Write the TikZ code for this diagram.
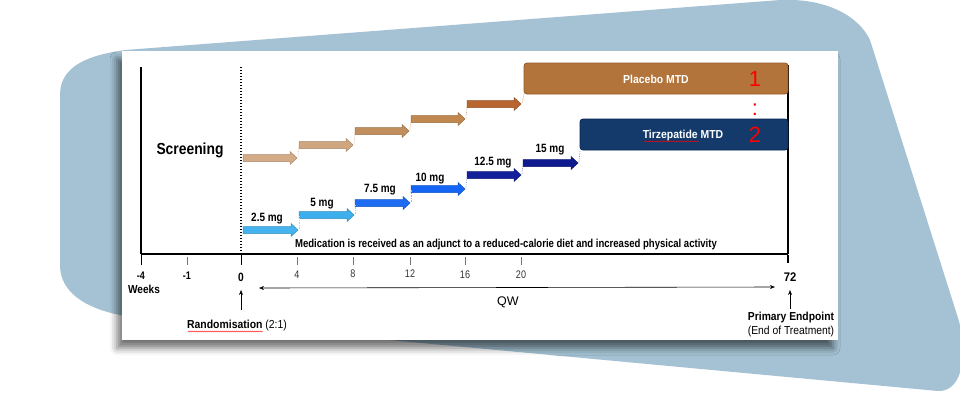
\documentclass[tikz,border=0pt]{standalone}
\usepackage{fontspec}
\usepackage{graphicx}
\setmainfont{Liberation Sans}
\usetikzlibrary{arrows.meta,shadows.blur,decorations.pathmorphing}
\definecolor{bgblue}{RGB}{164,194,211}
\definecolor{pl1}{RGB}{212,171,135}
\definecolor{pl2}{RGB}{208,166,128}
\definecolor{pl3}{RGB}{193,142,93}
\definecolor{pl4}{RGB}{192,135,78}
\definecolor{pl5}{RGB}{184,101,47}
\definecolor{tz1}{RGB}{69,180,238}
\definecolor{tz2}{RGB}{60,175,236}
\definecolor{tz3}{RGB}{29,108,242}
\definecolor{tz4}{RGB}{21,101,245}
\definecolor{tz5}{RGB}{20,32,154}
\definecolor{tz6}{RGB}{16,26,143}
\definecolor{plbox}{RGB}{178,116,59}
\definecolor{plboxd}{RGB}{150,92,40}
\definecolor{tzbox}{RGB}{20,58,108}
\definecolor{tzboxd}{RGB}{10,36,80}
\newcommand\nrw[2][0.86]{\scalebox{#1}[1]{#2}}
\newcommand\dosearrow[4]{%
  \filldraw[fill=#4,draw=#4!80!black,line width=0.5pt]
    (#1,#3-3.5) -- (#2-7,#3-3.5) -- (#2-7,#3-6.5) -- (#2,#3) -- (#2-7,#3+6.5)
    -- (#2-7,#3+3.5) -- (#1,#3+3.5) -- cycle;}
\tikzset{
  tick/.style={draw=black!55,line width=0.6pt},
  ticklab/.style={font=\fontsize{11}{12}\selectfont,text=black!80,inner sep=0pt},
  doselab/.style={font=\bfseries\fontsize{12}{13}\selectfont,inner sep=0pt},
  armbox/.style={rounded corners=3pt,line width=0.8pt},
  armtext/.style={font=\bfseries\fontsize{11.6}{13}\selectfont,text=white,inner sep=0pt},
  rednum/.style={font=\fontsize{22}{24}\selectfont,text=red,inner sep=0pt},
  faintdot/.style={densely dotted,line width=0.7pt},
  squig/.style={red,line width=0.4pt,decorate,decoration={snake,amplitude=0.5pt,segment length=2pt}}
}
\begin{document}
\begin{tikzpicture}[x=1pt,y=-1pt]
\useasboundingbox (0,0) rectangle (960,392);
% background blue shape
\fill[bgblue] (60,265) -- (60,95) .. controls (60,65) and (90,55) .. (125,50)
  -- (780,0) .. controls (825,-2) and (858,15) .. (870,40)
  -- (958,318) .. controls (968,350) and (964,392) .. (938,391)
  -- (120,315) .. controls (85,308) and (60,292) .. (60,265) -- cycle;
% white card
\fill[white,blur shadow={shadow xshift=-5pt,shadow yshift=-8pt,shadow blur radius=7pt,shadow opacity=55}]
  (122,51) rectangle (838,340);
% axes
\coordinate (tl) at (141,67);
\coordinate (bl) at (141,254);
\coordinate (br) at (788,254);
\coordinate (tr) at (788,65);
\draw[line width=1.5pt] (tl) -- (bl);
\draw[line width=2.4pt] (bl) -- (br);
\draw[line width=1.5pt] (br) -- (tr);
\draw[line width=1.4pt,dash pattern=on 1.4pt off 1.6pt] (241,67) -- (241,254);
% ticks
\foreach \x in {187,297,353,410,465,521} \draw[tick] (\x,257) -- (\x,265);
\draw[line width=0.8pt] (141,255) -- (141,265);
\draw[line width=0.8pt] (241,255) -- (241,265);
\draw[line width=1.2pt] (788,255) -- (788,263);
\node[ticklab,font=\bfseries\fontsize{11}{12}\selectfont,text=black] (tm4) at (141,276) {\nrw[0.82]{-4}};
\node[ticklab,font=\bfseries\fontsize{11}{12}\selectfont,text=black] (tm1) at (187,276) {\nrw[0.82]{-1}};
\node[ticklab,font=\bfseries\fontsize{12}{13}\selectfont,text=black] (t0) at (241,277) {\nrw[0.85]{0}};
\node[ticklab] (t4) at (297,275) {\nrw[0.82]{4}};
\node[ticklab] (t8) at (353,274) {\nrw[0.82]{8}};
\node[ticklab] (t12) at (410,274) {\nrw[0.82]{12}};
\node[ticklab] (t16) at (465,275) {\nrw[0.82]{16}};
\node[ticklab] (t20) at (521,275) {\nrw[0.82]{20}};
\node[ticklab,font=\bfseries\fontsize{12.5}{13}\selectfont,text=black] (t72) at (790,277) {\nrw[0.9]{72}};
\node[font=\bfseries\fontsize{11.6}{13}\selectfont,inner sep=0pt] (weeks) at (144,289) {\nrw[0.87]{Weeks}};
% QW
\coordinate (qwL) at (259,288);
\coordinate (qwR) at (775,287);
\draw[{Stealth[length=5pt,width=4pt]}-{Stealth[length=5pt,width=4pt]},line width=0.6pt] (qwL) -- (qwR);
\node[font=\fontsize{12.5}{13}\selectfont,inner sep=0pt] (qw) at (508,302) {QW};
% randomisation
\node[inner sep=0pt,font=\fontsize{11.6}{13}\selectfont] (rand) at (237,325) {\nrw[0.9]{\textbf{Randomisation} (2:1)}};
\coordinate (randA) at (241,310);
\coordinate (randB) at (241,290);
\draw[-{Stealth[length=5pt,width=4pt]},line width=0.6pt] (randA) -- (randB);
\draw[squig] (188,331.5) -- (263,331.5);
% endpoint
\node[inner sep=0pt,font=\bfseries\fontsize{11.6}{13}\selectfont] (pe) at (791,317) {\nrw[0.89]{Primary Endpoint}};
\node[inner sep=0pt,font=\fontsize{11.6}{13}\selectfont] (eot) at (791,331) {\nrw[0.89]{(End of Treatment)}};
\coordinate (peA) at (790,309);
\coordinate (peB) at (790,290);
\draw[-{Stealth[length=5pt,width=4pt]},line width=0.6pt] (peA) -- (peB);
% screening
\node[font=\bfseries\fontsize{16}{18}\selectfont,inner sep=0pt] (scr) at (190,150) {\nrw[0.866]{Screening}};
% medication text
\node[font=\bfseries\fontsize{11.5}{13}\selectfont,inner sep=0pt] (med) at (506,245)
  {\nrw[0.83]{Medication is received as an adjunct to a reduced-calorie diet and increased physical activity}};
% placebo arrows
\dosearrow{243}{297}{158}{pl1}
\dosearrow{299}{353}{145}{pl2}
\dosearrow{355}{409}{131}{pl3}
\dosearrow{411}{465}{119}{pl4}
\dosearrow{467}{521}{104}{pl5}
\draw[faintdot,pl1!70] (298,157) -- (299,146);
\draw[faintdot,pl2!70] (354,144) -- (355,132);
\draw[faintdot,pl3!70] (410,130) -- (411,120);
\draw[faintdot,pl4!70] (466,118) -- (467,105);
\draw[faintdot,pl5!70] (522,103) -- (524,94);
% tirzepatide arrows
\dosearrow{243}{298}{230}{tz1}
\dosearrow{299}{354}{215}{tz2}
\dosearrow{355}{410}{203}{tz3}
\dosearrow{411}{465}{189}{tz4}
\dosearrow{467}{521}{175}{tz5}
\dosearrow{523}{578}{163}{tz6}
\draw[faintdot,tz1!50] (299,229) -- (299,216);
\draw[faintdot,tz2!50] (355,214) -- (355,204);
\draw[faintdot,tz3!50] (411,202) -- (411,190);
\draw[faintdot,tz4!50] (466,188) -- (467,176);
\draw[faintdot,tz5!50] (522,174) -- (523,164);
\draw[faintdot,tz6!50] (579,162) -- (580,150);
\node[doselab] (d1) at (267,219) {\nrw[0.83]{2.5 mg}};
\node[doselab] (d2) at (322,204) {\nrw[0.83]{5 mg}};
\node[doselab] (d3) at (380,190) {\nrw[0.83]{7.5 mg}};
\node[doselab] (d4) at (430,179) {\nrw[0.83]{10 mg}};
\node[doselab] (d5) at (493,163) {\nrw[0.83]{12.5 mg}};
\node[doselab] (d6) at (550,150) {\nrw[0.83]{15 mg}};
% arm boxes
\draw[armbox,fill=plbox,draw=plboxd] (524,63) rectangle (788,94);
\node[armtext] (plt) at (656,79) {\nrw[0.9]{Placebo MTD}};
\draw[armbox,fill=tzbox,draw=tzboxd] (580,119) rectangle (788,150);
\node[armtext] (tzt) at (683,135) {\nrw[0.9]{Tirzepatide MTD}};
\draw[squig] (644,141.5) -- (699,141.5);
\node[rednum] (n1) at (755,79) {1};
\node[rednum,anchor=base] (colon) at (755,115) {:};
\node[rednum] (n2) at (755,135) {2};
\end{tikzpicture}
\end{document}
